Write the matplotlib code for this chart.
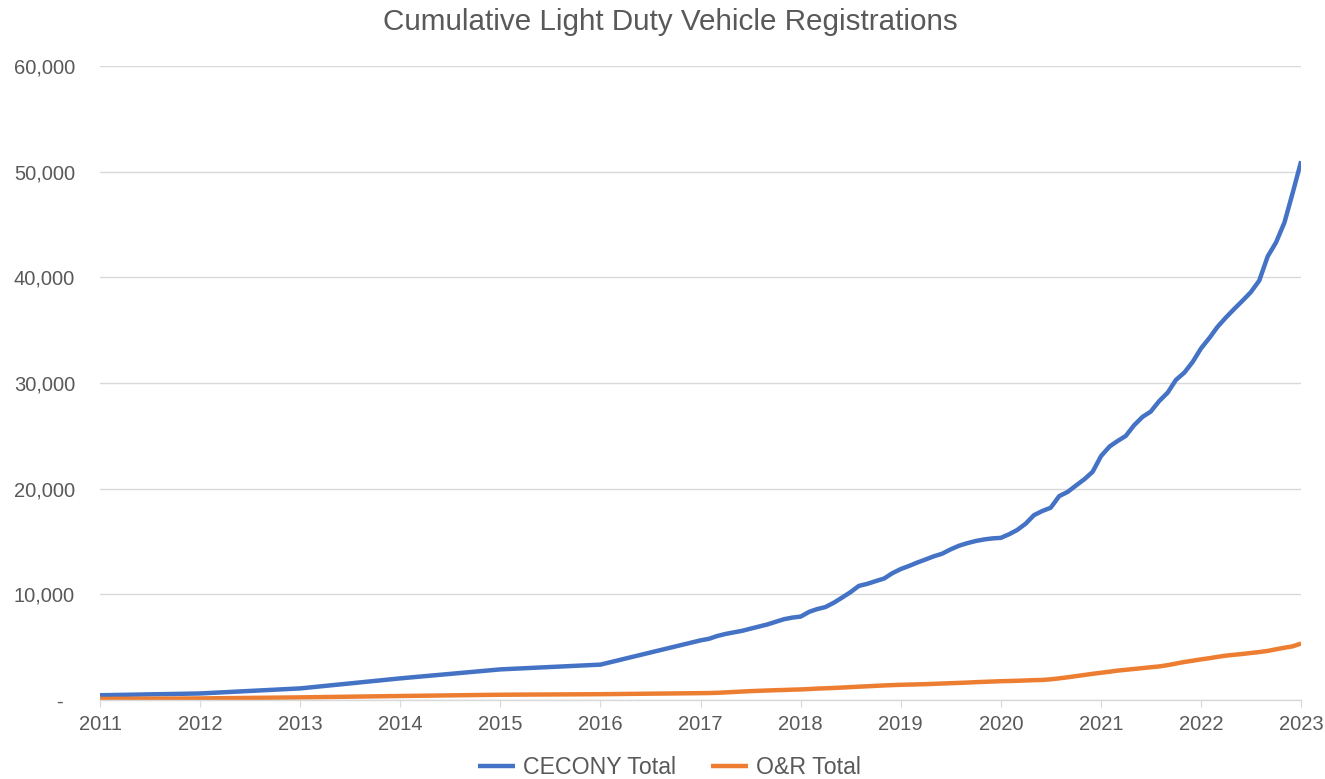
import pandas as pd
import numpy as np
import matplotlib
matplotlib.use("Agg")
import matplotlib.pyplot as plt
import matplotlib.dates as mdates
from matplotlib.ticker import FuncFormatter

plt.rcParams['font.family'] = ['Liberation Sans', 'DejaVu Sans']

# yearly points 2011-2016, then monthly from Jan 2017 to Jan 2023
yearly_dates = ['2011-01-01', '2012-01-01', '2013-01-01', '2014-01-01', '2015-01-01', '2016-01-01']
monthly_dates = pd.date_range('2017-01-01', '2023-01-01', freq='MS')

cecony_yearly = [450, 620, 1100, 2050, 2900, 3350]
cecony_monthly = [
    5650, 5800, 6050, 6250, 6400, 6550, 6750, 6950, 7150, 7400, 7650, 7800,          # 2017
    7900, 8350, 8600, 8800, 9200, 9700, 10200, 10800, 11000, 11250, 11500, 12000,    # 2018
    12400, 12700, 13000, 13300, 13600, 13850, 14250, 14600, 14850, 15050, 15200, 15300,  # 2019
    15350, 15700, 16100, 16700, 17500, 17900, 18200, 19300, 19700, 20300, 20900, 21600,  # 2020
    23100, 24000, 24500, 25000, 26000, 26800, 27300, 28300, 29100, 30300, 31000, 32000,  # 2021
    33300, 34300, 35300, 36200, 37000, 37800, 38600, 39700, 42000, 43300, 45200, 48000,  # 2022
    51000,                                                                             # 2023
]

onr_yearly = [100, 150, 250, 380, 500, 550]
onr_monthly = [
    650, 660, 680, 720, 760, 800, 840, 870, 900, 930, 950, 980,
    1000, 1040, 1080, 1110, 1140, 1180, 1220, 1260, 1300, 1340, 1380, 1410,
    1440, 1460, 1480, 1500, 1530, 1560, 1590, 1620, 1650, 1690, 1720, 1750,
    1780, 1800, 1820, 1850, 1880, 1900, 1960, 2050, 2150, 2260, 2370, 2480,
    2580, 2680, 2780, 2860, 2940, 3020, 3100, 3180, 3300, 3450, 3600, 3720,
    3850, 3960, 4080, 4200, 4280, 4360, 4450, 4540, 4650, 4800, 4950, 5080,
    5350,
]

dates = list(pd.to_datetime(yearly_dates)) + list(monthly_dates)
df = pd.DataFrame({
    'date': dates,
    'CECONY Total': cecony_yearly + cecony_monthly,
    'O&R Total': onr_yearly + onr_monthly,
})

txt = '#595959'
grid = '#D9D9D9'

fig = plt.figure(figsize=(13.25, 7.79), dpi=100)
ax = fig.add_axes([0.0755, 0.1014, 0.9065, 0.8136])

ax.plot(df['date'], df['CECONY Total'], color='#4472C4', lw=3.2, label='CECONY Total', solid_capstyle='butt')
ax.plot(df['date'], df['O&R Total'], color='#ED7D31', lw=3.2, label='O&R Total', solid_capstyle='butt')

ax.set_xlim(pd.Timestamp('2011-01-01'), pd.Timestamp('2023-01-01'))
ax.set_ylim(0, 60000)
ax.set_yticks(np.arange(0, 60001, 10000))
ax.yaxis.set_major_formatter(FuncFormatter(lambda v, p: '-  ' if v == 0 else f'{int(v):,}'))
ax.xaxis.set_major_locator(mdates.YearLocator())
ax.xaxis.set_major_formatter(mdates.DateFormatter('%Y'))

ax.grid(axis='y', color=grid, lw=1)
ax.set_axisbelow(True)
for s in ['left', 'right', 'top']:
    ax.spines[s].set_visible(False)
ax.spines['bottom'].set_color(grid)
ax.spines['bottom'].set_linewidth(1)
ax.tick_params(axis='y', length=0, pad=18, labelsize=14.5, labelcolor=txt)
ax.tick_params(axis='x', length=5, color=grid, pad=6, labelsize=14.5, labelcolor=txt)

fig.text(0.506, 0.972, 'Cumulative Light Duty Vehicle Registrations', ha='center', va='center',
         fontsize=21.3, color=txt)
fig.legend(loc='center', bbox_to_anchor=(0.505, 0.015), ncol=2, frameon=False,
           fontsize=16.7, labelcolor=txt, handlelength=1.6, handletextpad=0.35, columnspacing=1.5)

fig.savefig('out.png', dpi=100)
